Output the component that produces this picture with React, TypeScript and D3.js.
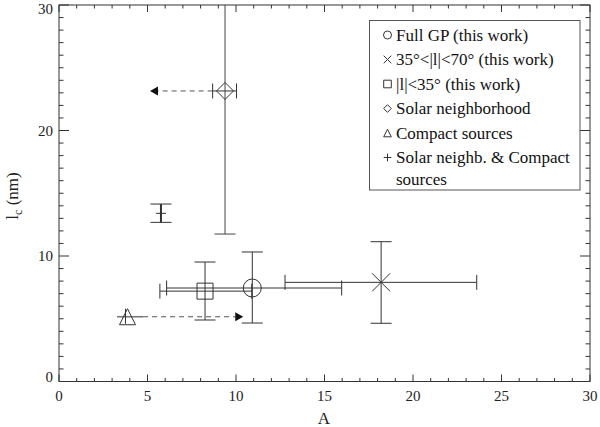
import * as d3 from "d3";
import React from "react";

// points: A (x) and l_c in nm (y), with error ranges
const names = [
  "Full GP (this work)",
  "35°<|l|<70° (this work)",
  "|l|<35° (this work)",
  "Solar neighborhood",
  "Compact sources",
  "Solar neighb. & Compact",
];
const symbols = ["circle", "cross", "square", "diamond", "triangle", "plus"];
const xVals = [10.92, 18.2, 8.25, 9.38, 3.87, 5.76];
const yVals = [7.45, 7.9, 7.2, 23.15, 5.16, 13.4];
const xLow = [6.08, 12.77, 5.7, 8.68, 3.28, null];
const xHigh = [15.97, 23.6, 10.89, 10.03, 4.75, null];
const yLow = [4.66, 4.64, 4.9, 11.75, 4.6, 12.68];
const yHigh = [10.32, 11.14, 9.52, 30, 5.8, 14.14];

// dashed arrows (limits)
const arrowFrom = [8.68, 4.75];
const arrowTo = [5.14, 10.41];
const arrowY = [23.15, 5.16];

const xTicks = [0, 5, 10, 15, 20, 25, 30];
const yTicks = [0, 10, 20, 30];

const W = 600;
const H = 427;
const ink = "#333";
const font = { fontFamily: "'Liberation Serif', 'Times New Roman', serif" };

function marker(kind: string, cx: number, cy: number, s: number) {
  const p = d3.path();
  if (kind === "circle") {
    return <circle cx={cx} cy={cy} r={s} fill="none" stroke={ink} />;
  }
  if (kind === "cross") {
    p.moveTo(cx - s, cy - s);
    p.lineTo(cx + s, cy + s);
    p.moveTo(cx - s, cy + s);
    p.lineTo(cx + s, cy - s);
  } else if (kind === "square") {
    p.rect(cx - s, cy - s, 2 * s, 2 * s);
  } else if (kind === "diamond") {
    p.moveTo(cx, cy - s);
    p.lineTo(cx + s, cy);
    p.lineTo(cx, cy + s);
    p.lineTo(cx - s, cy);
    p.closePath();
  } else if (kind === "triangle") {
    p.moveTo(cx, cy - s);
    p.lineTo(cx + s, cy + s);
    p.lineTo(cx - s, cy + s);
    p.closePath();
  } else {
    p.moveTo(cx - s, cy);
    p.lineTo(cx + s, cy);
    p.moveTo(cx, cy - s);
    p.lineTo(cx, cy + s);
  }
  return <path d={p.toString()} fill="none" stroke={ink} />;
}

export default function App() {
  const x = d3.scaleLinear().domain([0, 30]).range([59, 590]);
  const y = d3.scaleLinear().domain([0, 30]).range([381.5, 5]);
  const [x0, x1] = x.range();
  const [y0, y1] = y.range();

  const minorX = d3.range(0, 31, 1);
  const minorY = d3.range(0, 31, 1);

  const markSize = [9, 9, 8, 8.5, 8, 5];

  return (
    <svg
      width={W}
      height={H}
      style={{ position: "absolute", left: 0, top: 0, background: "#fff", ...font }}
    >
      {/* frame */}
      <rect x={x0} y={y1} width={x1 - x0} height={y0 - y1} fill="none" stroke={ink} />

      {/* x ticks, bottom and top */}
      {minorX.map(v => {
        const len = xTicks.includes(v) ? 7 : 3.5;
        return (
          <g key={"xt" + v} stroke={ink}>
            <line x1={x(v)} x2={x(v)} y1={y0} y2={y0 - len} />
            <line x1={x(v)} x2={x(v)} y1={y1} y2={y1 + len} />
          </g>
        );
      })}
      {/* y ticks, left and right */}
      {minorY.map(v => {
        const len = yTicks.includes(v) ? 10 : 4.5;
        return (
          <g key={"yt" + v} stroke={ink}>
            <line x1={x0} x2={x0 + len} y1={y(v)} y2={y(v)} />
            <line x1={x1} x2={x1 - len} y1={y(v)} y2={y(v)} />
          </g>
        );
      })}

      {xTicks.map(v => (
        <text key={"xl" + v} x={x(v)} y={401} fontSize={15} textAnchor="middle" fill="#222" style={font}>
          {v}
        </text>
      ))}
      {yTicks.map(v => (
        <text
          key={"yl" + v}
          x={x0 - 6}
          y={Math.min(Math.max(y(v), y1 + 4), y0 - 5)}
          fontSize={15}
          textAnchor="end"
          dominantBaseline="central"
          fill="#222"
          style={font}
        >
          {v}
        </text>
      ))}

      <text x={324} y={424} fontSize={17} textAnchor="middle" fill="#222" style={font}>
        A
      </text>
      <text
        transform="translate(18,196) rotate(-90)"
        fontSize={17}
        textAnchor="middle"
        fill="#222"
        style={font}
      >
        l
        <tspan fontSize={12} dy={4}>c</tspan>
        <tspan dy={-4}> (nm)</tspan>
      </text>

      {/* dashed arrows */}
      {arrowFrom.map((a, i) => {
        const dir = arrowTo[i] > a ? 1 : -1;
        const tip = x(arrowTo[i]);
        const base = tip - dir * 8;
        const yy = y(arrowY[i]);
        return (
          <g key={"ar" + i}>
            <line x1={x(a)} x2={base} y1={yy} y2={yy} stroke="#555" strokeDasharray="5,4" />
            <path d={`M${tip},${yy}L${base},${yy - 4.5}L${base},${yy + 4.5}Z`} fill="#111" />
          </g>
        );
      })}

      {/* error bars and markers */}
      {xVals.map((xv, i) => {
        const cx = x(xv);
        const cy = y(yVals[i]);
        const lo = xLow[i];
        const hi = xHigh[i];
        const yl = y(yLow[i]);
        const yh = y(yHigh[i]);
        const plus = symbols[i] === "plus";
        const tri = symbols[i] === "triangle";
        return (
          <g key={"pt" + i} stroke={ink}>
            {lo !== null && hi !== null && (
              <g stroke={tri ? "#777" : ink} strokeWidth={tri ? 1.6 : 1}>
                <line x1={x(lo)} x2={x(hi)} y1={cy} y2={cy} />
                {!tri && <line x1={x(lo)} x2={x(lo)} y1={cy - 7.5} y2={cy + 7.5} />}
                {!tri && <line x1={x(hi)} x2={x(hi)} y1={cy - 7.5} y2={cy + 7.5} />}
              </g>
            )}
            {tri ? (
              <line x1={cx - 2} x2={cx - 2} y1={yl} y2={yh} />
            ) : (
              <g stroke={symbols[i] === "diamond" ? "#444" : ink}>
                <line x1={cx} x2={cx} y1={yl} y2={yh} strokeWidth={plus ? 2 : 1} />
                <line x1={cx - 10.5} x2={cx + 10.5} y1={yl} y2={yl} />
                {yHigh[i] < 30 && <line x1={cx - 10.5} x2={cx + 10.5} y1={yh} y2={yh} />}
              </g>
            )}
            {marker(symbols[i], cx, cy, markSize[i])}
          </g>
        );
      })}

      {/* legend */}
      <g>
        <rect x={369.5} y={20.5} width={210.5} height={169.5} fill="#fff" stroke="#555" />
        {names.map((n, i) => {
          const ry = 35 + i * 24.5;
          return (
            <g key={"lg" + i}>
              {marker(symbols[i], 387.5, ry, symbols[i] === "circle" ? 4 : 3.8)}
              <text x={396} y={ry} fontSize={17} dominantBaseline="central" fill="#111" style={font}>
                {n}
              </text>
            </g>
          );
        })}
        <text x={396} y={179} fontSize={17} dominantBaseline="central" fill="#111" style={font}>
          sources
        </text>
      </g>
    </svg>
  );
}
